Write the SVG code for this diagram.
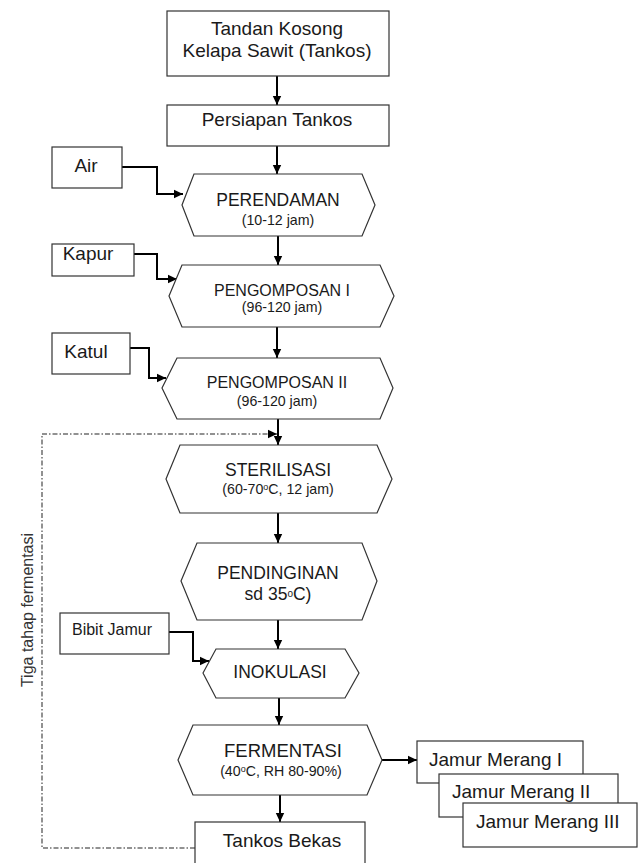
<svg xmlns="http://www.w3.org/2000/svg" width="638" height="863" viewBox="0 0 638 863">
<style>
  .box { fill: #fff; stroke: #333; stroke-width: 1.2; }
  .hex { fill: #fff; stroke: #333; stroke-width: 1.2; }
  text { font-family: "Liberation Sans", Arial, sans-serif; fill: #1a1a1a; }
  .t19 { font-size: 19px; }
  .t17 { font-size: 17.5px; }
  .sub { font-size: 14.2px; }
  .c { text-anchor: middle; }
  .sup { font-size: 9px; baseline-shift: 4px; }
  .arrow { fill: none; stroke: #000; stroke-width: 2; marker-end: url(#ah); }
  .dd { fill: none; stroke: #6e6e6e; stroke-width: 1.5; stroke-dasharray: 5 2 1.5 2; marker-end: url(#ah); }
</style>
<defs>
  <marker id="ah" markerWidth="10" markerHeight="10" refX="9" refY="5" orient="auto" markerUnits="userSpaceOnUse">
    <path d="M0,0.8 L9,5 L0,9.2 Z" fill="#000"/>
  </marker>
</defs>

<g id="connectors">
  <line class="arrow" x1="277" y1="76" x2="277" y2="105"/>
  <line class="arrow" x1="277" y1="146" x2="277" y2="174"/>
  <line class="arrow" x1="278" y1="236" x2="278" y2="265"/>
  <line class="arrow" x1="277" y1="327" x2="277" y2="358"/>
  <line class="arrow" x1="278" y1="419" x2="278" y2="445"/>
  <line class="arrow" x1="278" y1="513" x2="278" y2="543"/>
  <line class="arrow" x1="278" y1="620" x2="278" y2="649"/>
  <line class="arrow" x1="279" y1="698" x2="279" y2="725"/>
  <line class="arrow" x1="280" y1="795" x2="280" y2="822"/>
  <polyline class="arrow" points="122,167 157,167 157,194 183,194"/>
  <polyline class="arrow" points="134,254 157,254 157,279 177,279"/>
  <polyline class="arrow" points="130,348 149,348 149,378 166,378"/>
  <polyline class="arrow" points="169,632 193,632 193,661 209,661"/>
  <line class="arrow" x1="382" y1="760" x2="417" y2="760"/>
  <polyline class="dd" points="195,848 42,848 42,434 277,434"/>
</g>

<g id="tandan">
  <rect class="box" x="167" y="11" width="222" height="65"/>
  <text class="t19 c" x="277" y="35">Tandan Kosong</text>
  <text class="t19 c" x="277" y="57">Kelapa Sawit (Tankos)</text>
</g>
<g id="persiapan">
  <rect class="box" x="167" y="105" width="222" height="41"/>
  <text class="t19 c" x="277" y="126">Persiapan Tankos</text>
</g>
<g id="air">
  <rect class="box" x="52" y="147" width="70" height="41"/>
  <text class="t19 c" x="86" y="172">Air</text>
</g>
<g id="perendaman">
  <polygon class="hex" points="182,205 194,174 362,174 375,205 362,236 194,236"/>
  <text class="t17 c" x="278" y="206">PERENDAMAN</text>
  <text class="sub c" x="278" y="225">(10-12 jam)</text>
</g>
<g id="kapur">
  <rect class="box" x="52" y="244" width="82" height="32"/>
  <text class="t19 c" x="88" y="260">Kapur</text>
</g>
<g id="pengomposan1">
  <polygon class="hex" points="169,296 182,265 380,265 394,296 380,327 182,327"/>
  <text class="c" style="font-size:16px" x="282" y="296">PENGOMPOSAN I</text>
  <text class="sub c" x="282" y="312">(96-120 jam)</text>
</g>
<g id="katul">
  <rect class="box" x="52" y="333" width="78" height="41"/>
  <text class="t19 c" x="86" y="358">Katul</text>
</g>
<g id="pengomposan2">
  <polygon class="hex" points="162,388 177,358 380,358 393,388 380,419 177,419"/>
  <text class="c" style="font-size:16px" x="277" y="388">PENGOMPOSAN II</text>
  <text class="sub c" x="277" y="406">(96-120 jam)</text>
</g>
<g id="sterilisasi">
  <polygon class="hex" points="166,479 180,445 377,445 392,479 377,513 180,513"/>
  <text class="t17 c" x="278" y="476">STERILISASI</text>
  <text class="sub c" x="278" y="494">(60-70<tspan class="sup">o</tspan>C, 12 jam)</text>
</g>
<g id="pendinginan">
  <polygon class="hex" points="181,581 197,543 362,543 377,581 362,620 197,620"/>
  <text class="t17 c" x="278" y="579">PENDINGINAN</text>
  <text class="t17 c" x="278" y="600">sd 35<tspan class="sup" style="font-size:10px; baseline-shift:3px">o</tspan>C)</text>
</g>
<g id="bibit">
  <rect class="box" x="60" y="613" width="109" height="41"/>
  <text class="c" style="font-size:16px" x="112" y="635">Bibit Jamur</text>
</g>
<g id="inokulasi">
  <polygon class="hex" points="203,673 216,649 345,649 359,673 345,698 216,698"/>
  <text class="t17 c" x="280" y="678">INOKULASI</text>
</g>
<g id="fermentasi">
  <polygon class="hex" points="178,760 193,725 367,725 382,760 367,795 193,795"/>
  <text class="c" style="font-size:18.5px" x="283" y="757">FERMENTASI</text>
  <text class="sub c" x="281" y="776">(40<tspan class="sup">o</tspan>C, RH 80-90%)</text>
</g>
<g id="jamur1">
  <rect class="box" x="417" y="741" width="166" height="42"/>
  <text class="t19" x="429" y="766">Jamur Merang I</text>
</g>
<g id="jamur2">
  <rect class="box" x="439" y="774" width="179" height="43"/>
  <text class="t19" x="452" y="798">Jamur Merang II</text>
</g>
<g id="jamur3">
  <rect class="box" x="463" y="803" width="174" height="44"/>
  <text class="t19" x="476" y="828">Jamur Merang III</text>
</g>
<g id="tankosbekas">
  <rect class="box" x="195" y="822" width="170" height="50"/>
  <text class="t19 c" x="282" y="847">Tankos Bekas</text>
</g>
<g id="label-tiga">
  <text class="c" style="font-size:16px; fill:#333" transform="translate(33,610) rotate(-90)">Tiga tahap fermentasi</text>
</g>
</svg>
